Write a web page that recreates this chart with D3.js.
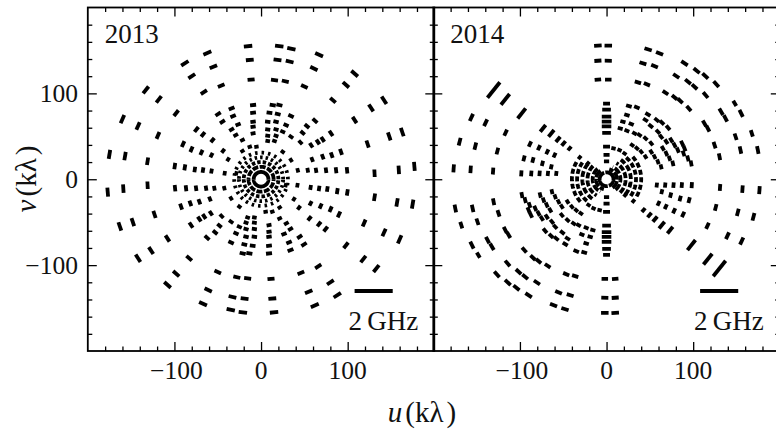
<!DOCTYPE html>
<html><head><meta charset="utf-8">
<script src="https://cdn.jsdelivr.net/npm/d3@7"></script>
<style>body{margin:0;background:#fff}</style>
</head><body>
<script>
// ---------- DATA (kλ). Upper half-plane visibilities; conjugates (-u,-v) added. ----------
const panelLabels = ["2013", "2014"];
const majorTicks = [-100, 0, 100];
const minorTicks = [-180,-160,-140,-120,-80,-60,-40,-20,20,40,60,80,120,140,160,180];
const scaleBar = [108, 152, -130];   // u0, u1, v  (2 GHz bar)
const scaleBarLabel = "2\u2009GHz";

// 2013 dashes [u, v]
const dashes2013 = [
 // outer tracks
 [-15,155],[21,155],[35,152],[-62,147],[67,145],[-13,139],[19,139],[33,137],[-88,135],[-55,131],
 [61,129],[108,123],[-80,120],[-11.5,116],[15.5,115.5],[28,114],[50,108],[98,110],[-46,109],[-66,101.5],
 [-133,104],[-118,93],[-98,77],[83,92],[127,83],[142,92],[-160,70],[-142,62],[-119,51],[108,69],
 [163,55],[148,50],[123,41],[-175,29],[-157,27],[-131,21],[131,7],[159,11],[177,15],
 // inner, upper left
 [-34,82.5],[-49.6,75.9],[-32.3,73.6],[-44.6,67],[-26.5,63.8],[-74.6,58],[-34,58],[-67,52.2],[-56,45.6],
 [-29.2,51.4],[-21.5,45.6],[-90,41],[-80.3,34.8],[-68.8,31.2],[-57.2,28.1],[-43.8,33.1],[-38,23.1],
 [-21.5,32.8],[-13,37.8],[-5.3,37.8],
 [-9.2,86.4],[-9.2,77.4],[-9.2,67],[-9.2,61.1],[-9.2,53.4],
 [-99.6,15.3],[-88,13.8],[-76.5,11.4],[-67,10.7],[-57.2,9.5],[-42,7],[-28.5,7],
 // inner, upper right
 [13.5,86.4],[21.2,86.4],[9.7,77.4],[19.3,75.9],[34.6,73.6],[7.7,67],[17.3,67],[28.9,63.1],[53,61.9],
 [62.3,68.1],[7.7,58],[17.3,58],[25,55.4],[48,54.1],[80.8,53.4],[71.2,46.4],[7.7,50.6],[17.3,50.6],
 [34.6,49.5],[45.5,42.9],[57.9,39.6],[65.6,43.4],[92.3,32],[81.6,28.1],[71.2,26.2],[59,23],[34.6,22.3],
 [25,32],[7.7,44.5],[15.5,44.5],
 [42.4,10.4],[53.9,10.4],[63.5,10.4],[75,10.4],[86.6,10.4],[99.3,10.4]
];
// 2013 central rings [r, startDeg, endDeg, dash]
const arcs2013 = [[8.5,0,180,"none"],[14.5,0,180,"6,1.5"],[20,0,180,"3.5,2"],[25.5,0,180,"2.5,3"],[31,0,180,"2.5,4"]];

// 2014 dashes [u, v, length(kλ, optional)]
const dashes2014 = [
 // upper-left long tracks and outer dashes
 [-130.3,103.9,23],[-116.9,93,16],[-98,76.7,15],
 [-156,72],[-139.6,65.8],[-116.5,54.2],[-169.6,43.7],[-151.5,38.6],[-126,32.8],[-176.5,12.6],[-156.9,11.4],[-131,9.5],
 [-98.4,6.8],[-86.9,6.8],[-77.3,6.8],[-67.7,6.8],[-58,6.8],
 // spokes toward upper left
 [-73.4,59.2,10],[-63.8,53.4,10],[-56,46.4,8],[-49.6,41.7,7],[-42.7,35.9,6],[-31,25.4,5],[-21.5,18.4,5],
 [-88.4,41],[-78,36.7],[-68.4,32],[-60,28.1],[-95.3,24.3],[-85,22.3],[-74,18.4],[-63.8,14.5],
 // vertical column near u = 0
 [-10,155.6],[2,155.6],[-10,138],[2,138],[-10,116],[2,116],
 [0,88,8],[0,81,10],[0,73,11],[0,67,11],[0,61.5,11],[0,54,10],[0,38,8],[0,28.5,7],[0,20.7,6],
 // upper-right outer arcs
 [48,151.2],[61.2,146.6],[42,135],[55.4,131.8],[36.2,112.8],[46.6,110.5],
 [90,135],[104,126.4],[114,120.2],[126.6,110.8],[80.4,120.2],[94,113.6],[101.6,107.7],[114.3,98],
 [68,100.8],[78.5,95.3],[85,91.4],[95,82.5],
 [148,88.3,7],[155.4,76.7,9],[132.3,78.6],[137.3,70.9],[113,65],[117,59],[124.7,39.8],[130.4,26.2],
 [149,49.5,8],[154.6,34],[167.7,53.4,8],[174.6,34],
 // inner fan, upper right
 [25.8,85.2],[35,83.7],[23.5,74.7],[47.7,75.5],[18.9,67],[28.5,64.3],
 [45,69],[51,62],[58,69],[64,66],[71,60],
 [15.8,59.2],[23.5,56.5],[32.3,53.4],[38,51.5],[45,47.5],[51.6,41.8],
 [59.3,55.3],[63,49.5],[69,43.7],[74.7,45.6],[78.5,39.8],[82.3,34],[87.3,41.7],[90,35.9],
 [88.9,30],[93.9,24.3],[97.7,18.4],[8,36],[15,34],[20.8,30],
 [29.6,39.8],[35,36],[40,32],[45,26.2],[51.6,32],[55.4,26.2],[59.3,20.4],[63,14.5],
 [65,36],[69,30],[72.7,24.3],[76.6,18.4]
];
// 2014 central arcs [r, startDeg, endDeg, dash]
const arcs2014 = [[8,-70,100,"none"],[12,-55,75,"8,1.5"],[16,-50,65,"7,2"],[22,-45,60,"6,2"],
 [28,-40,55,"6,2.5"],[34,-35,50,"5,2.5"],[40,-30,45,"5,2.5"]];

// ---------- LAYOUT ----------
const W = 776, H = 430;
const FONT = "'Liberation Serif', 'Times New Roman', Times, serif";
const panels = [
 {label: panelLabels[0], dashes: dashes2013, arcs: arcs2013, x0: 87.8, lenA: 3.5, lenB: 0.04, sw: 3.8, yLabels: true},
 {label: panelLabels[1], dashes: dashes2014, arcs: arcs2014, x0: 433.3, lenA: 4, lenB: 0.03, sw: 3.8, yLabels: false}
];
const PW = 346.5, yTop = 7.5, yBot = 351;

const svg = d3.select("body").append("svg").attr("width", W).attr("height", H)
  .attr("font-family", FONT);

panels.forEach(p => {
  const x = d3.scaleLinear().domain([-200, 200]).range([p.x0, p.x0 + PW]);
  const y = d3.scaleLinear().domain([-200, 200]).range([yBot, yTop]);
  const g = svg.append("g");
  const clipId = "clip" + p.label;
  svg.append("clipPath").attr("id", clipId).append("rect")
    .attr("x", p.x0).attr("y", yTop).attr("width", PW).attr("height", yBot - yTop);
  const data = g.append("g").attr("clip-path", `url(#${clipId})`);

  const all = p.dashes.concat(p.dashes.map(d => [-d[0], -d[1], d[2]]));
  data.selectAll("line.dash").data(all).join("line").attr("class", "dash")
    .each(function(d) {
      const r = Math.hypot(d[0], d[1]);
      const L = d[2] !== undefined ? d[2] : p.lenA + p.lenB * r;
      const tu = -d[1] / r, tv = d[0] / r;
      d3.select(this)
        .attr("x1", x(d[0] - tu * L / 2)).attr("y1", y(d[1] - tv * L / 2))
        .attr("x2", x(d[0] + tu * L / 2)).attr("y2", y(d[1] + tv * L / 2));
    })
    .attr("stroke", "#000").attr("stroke-width", p.sw).attr("stroke-linecap", "butt");

  const allArcs = p.arcs.concat(p.arcs.map(a => [a[0], a[1] + 180, a[2] + 180, a[3]]));
  const line = d3.line().x(d => x(d[0])).y(d => y(d[1]));
  data.selectAll("path.arc").data(allArcs).join("path").attr("class", "arc")
    .attr("d", a => {
      const pts = d3.range(a[1], a[2] + 0.01, 2).map(t => [a[0] * Math.cos(t * Math.PI / 180), a[0] * Math.sin(t * Math.PI / 180)]);
      return line(pts);
    })
    .attr("fill", "none").attr("stroke", "#000").attr("stroke-width", p.sw)
    .attr("stroke-dasharray", a => a[3]);

  // scale bar
  data.append("line").attr("x1", x(scaleBar[0])).attr("x2", x(scaleBar[1]))
    .attr("y1", y(scaleBar[2])).attr("y2", y(scaleBar[2]))
    .attr("stroke", "#000").attr("stroke-width", 4);
  g.append("text").attr("x", p.x0 + PW - 16).attr("y", 329.5).attr("text-anchor", "end")
    .attr("font-size", 27).attr("fill", "#111").text(scaleBarLabel);
  g.append("text").attr("x", p.x0 + 17).attr("y", 42.8).attr("font-size", 27).attr("fill", "#111").text(p.label);

  // axes: ticks inward on four sides
  const mk = (axis, scale, ticks, len) => axis(scale).tickValues(ticks).tickSize(len).tickFormat("");
  const addAxis = (gen, transform) => {
    const a = g.append("g").attr("transform", transform).call(gen);
    a.select(".domain").remove();
    a.selectAll("line").attr("stroke", "#000").attr("stroke-width", 1.3);
  };
  addAxis(mk(d3.axisTop, x, majorTicks, 9), `translate(0,${yBot})`);
  addAxis(mk(d3.axisTop, x, minorTicks, 4.5), `translate(0,${yBot})`);
  addAxis(mk(d3.axisBottom, x, majorTicks, 9), `translate(0,${yTop})`);
  addAxis(mk(d3.axisBottom, x, minorTicks, 4.5), `translate(0,${yTop})`);
  addAxis(mk(d3.axisRight, y, majorTicks, 9), `translate(${p.x0},0)`);
  addAxis(mk(d3.axisRight, y, minorTicks, 4.5), `translate(${p.x0},0)`);
  addAxis(mk(d3.axisLeft, y, majorTicks, 9), `translate(${p.x0 + PW},0)`);
  addAxis(mk(d3.axisLeft, y, minorTicks, 4.5), `translate(${p.x0 + PW},0)`);

  g.append("rect").attr("x", p.x0).attr("y", yTop).attr("width", PW).attr("height", yBot - yTop)
    .attr("fill", "none").attr("stroke", "#000").attr("stroke-width", 1.8);

  // tick labels
  g.selectAll("text.xt").data(majorTicks).join("text").attr("class", "xt")
    .attr("x", d => x(d)).attr("y", 378.5).attr("text-anchor", "middle").attr("font-size", 25.5)
    .attr("fill", "#111")
    .text(d => d < 0 ? "\u2212" + Math.abs(d) : d)
    .attr("dx", d => d < 0 ? 2 : 0);
  if (p.yLabels) {
    g.selectAll("text.yt").data(majorTicks).join("text").attr("class", "yt")
      .attr("x", 78).attr("y", d => y(d) + 8.6).attr("text-anchor", "end").attr("font-size", 25.5)
      .attr("fill", "#111")
      .text(d => d < 0 ? "\u2212" + Math.abs(d) : d);
  }
});

// axis titles
const xt = svg.append("text").attr("x", 422).attr("y", 422).attr("text-anchor", "middle")
  .attr("font-size", 29).attr("fill", "#111");
xt.append("tspan").attr("font-style", "italic").text("u");
xt.append("tspan").attr("dx", 3).text("(k\u03bb");
xt.append("tspan").attr("dx", 3).text(")");
const yt = svg.append("text").attr("transform", "translate(36,179) rotate(-90)").attr("text-anchor", "middle")
  .attr("font-size", 29).attr("fill", "#111");
yt.append("tspan").attr("font-style", "italic").text("v");
yt.append("tspan").attr("dx", 3).text("(k\u03bb");
yt.append("tspan").attr("dx", 3).text(")");
</script>
</body></html>
